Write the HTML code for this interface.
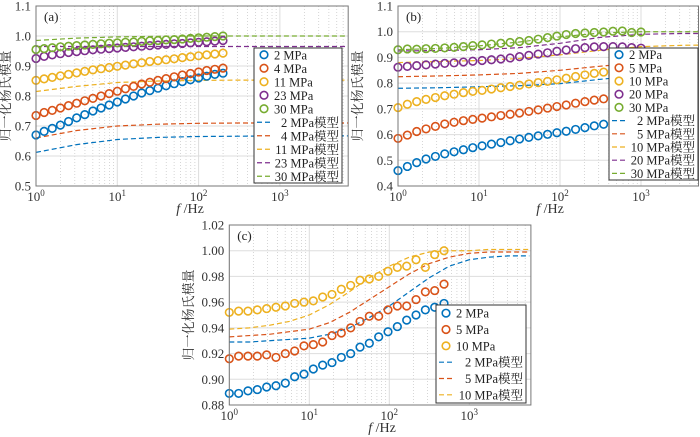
<!DOCTYPE html>
<html><head><meta charset="utf-8"><style>
body{margin:0;background:#fff;}
svg{display:block;font-family:"Liberation Serif","Noto Serif CJK SC",serif;}
</style></head><body>
<svg id="chart" width="700" height="437" viewBox="0 0 700 437" xmlns="http://www.w3.org/2000/svg"></svg>
<script>
// ---------- Panel (a) data ----------
const aLabels = ["2 MPa","4 MPa","11 MPa","23 MPa","30 MPa"];
const aP2 = [0.670,0.682,0.692,0.703,0.715,0.727,0.738,0.750,0.760,0.770,0.780,0.790,0.800,0.810,0.818,0.826,0.834,0.841,0.848,0.854,0.860,0.866,0.872,0.876];
const aP4 = [0.735,0.745,0.752,0.760,0.768,0.776,0.784,0.792,0.800,0.808,0.816,0.824,0.832,0.840,0.846,0.852,0.858,0.864,0.870,0.875,0.880,0.885,0.889,0.893];
const aP11 = [0.852,0.857,0.862,0.867,0.872,0.877,0.882,0.887,0.891,0.895,0.899,0.903,0.907,0.911,0.915,0.918,0.921,0.924,0.928,0.931,0.934,0.937,0.940,0.943];
const aP23 = [0.925,0.932,0.937,0.941,0.945,0.948,0.951,0.954,0.956,0.958,0.960,0.962,0.964,0.966,0.968,0.970,0.972,0.974,0.975,0.977,0.979,0.981,0.983,0.985];
const aP30 = [0.955,0.958,0.961,0.964,0.966,0.968,0.970,0.972,0.974,0.976,0.977,0.979,0.980,0.982,0.984,0.985,0.987,0.988,0.990,0.992,0.994,0.996,0.998,1.000];
const aM2 = [0.612,0.638,0.655,0.662,0.665,0.666,0.667,0.667,0.667];
const aM4 = [0.660,0.685,0.700,0.706,0.709,0.710,0.710,0.710,0.710];
const aM11 = [0.815,0.832,0.845,0.850,0.852,0.853,0.853,0.853,0.853];
const aM23 = [0.965,0.965,0.965,0.965,0.965,0.965,0.965,0.965,0.965];
const aM30 = [0.985,0.993,0.997,0.999,1.000,1.000,1.000,1.000,1.000];
const aYTicks = [0.5,0.6,0.7,0.8,0.9,1.0,1.1];
// ---------- Panel (b) data ----------
const bLabels = ["2 MPa","5 MPa","10 MPa","20 MPa","30 MPa"];
const bP2 = [0.460,0.476,0.491,0.505,0.515,0.525,0.533,0.541,0.549,0.556,0.563,0.569,0.576,0.583,0.589,0.595,0.601,0.607,0.613,0.620,0.627,0.634,0.640,0.648,0.656,0.664,0.672];
const bP5 = [0.585,0.598,0.612,0.622,0.632,0.641,0.648,0.654,0.659,0.664,0.669,0.674,0.679,0.684,0.690,0.696,0.703,0.709,0.715,0.722,0.728,0.734,0.739,0.745,0.752,0.758,0.764];
const bP10 = [0.705,0.718,0.728,0.737,0.744,0.751,0.757,0.763,0.768,0.772,0.777,0.782,0.787,0.792,0.797,0.802,0.807,0.813,0.819,0.826,0.832,0.838,0.843,0.848,0.853,0.858,0.862];
const bP20 = [0.862,0.865,0.868,0.871,0.874,0.877,0.879,0.882,0.885,0.888,0.891,0.894,0.898,0.903,0.908,0.913,0.918,0.924,0.929,0.934,0.938,0.941,0.942,0.942,0.941,0.938,0.936];
const bP30 = [0.930,0.933,0.932,0.934,0.935,0.937,0.939,0.942,0.946,0.949,0.952,0.955,0.958,0.962,0.966,0.971,0.977,0.983,0.989,0.993,0.995,0.997,0.999,1.002,1.003,0.997,0.999];
const bM2 = [0.780,0.782,0.786,0.790,0.798,0.815,0.830,0.838,0.840];
const bM5 = [0.825,0.828,0.832,0.838,0.850,0.866,0.880,0.888,0.890];
const bM10 = [0.880,0.884,0.888,0.896,0.910,0.928,0.942,0.947,0.948];
const bM20 = [0.925,0.927,0.930,0.938,0.955,0.978,0.990,0.993,0.993];
const bM30 = [0.930,0.935,0.945,0.960,0.980,0.995,1.000,1.000,1.000];
const bYTicks = [0.4,0.5,0.6,0.7,0.8,0.9,1.0,1.1];
// ---------- Panel (c) data ----------
const cLabels = ["2 MPa","5 MPa","10 MPa"];
const cP2 = [0.889,0.889,0.891,0.892,0.894,0.895,0.897,0.902,0.904,0.908,0.911,0.913,0.917,0.920,0.925,0.928,0.933,0.937,0.941,0.946,0.950,0.954,0.956,0.959];
const cP5 = [0.916,0.918,0.918,0.918,0.919,0.917,0.920,0.922,0.926,0.927,0.929,0.934,0.936,0.940,0.945,0.949,0.949,0.954,0.957,0.957,0.962,0.968,0.969,0.974];
const cP10 = [0.952,0.953,0.953,0.954,0.955,0.956,0.957,0.959,0.960,0.961,0.964,0.966,0.970,0.973,0.977,0.978,0.980,0.984,0.987,0.988,0.993,0.987,0.997,1.000];
const cM2 = [0.929,0.929,0.930,0.931,0.932,0.935,0.940,0.948,0.957,0.968,0.979,0.988,0.993,0.995,0.996,0.996];
const cM5 = [0.933,0.934,0.935,0.937,0.939,0.944,0.952,0.962,0.972,0.982,0.990,0.995,0.998,0.999,0.999,0.999];
const cM10 = [0.939,0.940,0.942,0.945,0.950,0.958,0.968,0.979,0.988,0.995,0.999,1.000,1.000,1.001,1.001,1.001];
const cYTicks = [0.88,0.90,0.92,0.94,0.96,0.98,1.00,1.02];
const xTickExp = [0,1,2,3];

const COLORS = ["#0072BD","#D95319","#EDB120","#7E2F8E","#77AC30"];
const NS = "http://www.w3.org/2000/svg";
const svg = document.getElementById("chart");
function mk(tag, attrs, parent){const e=document.createElementNS(NS,tag);for(const k in attrs)e.setAttribute(k,attrs[k]);(parent||svg).appendChild(e);return e;}

function panel(p){
  const g = mk("g",{});
  
  
  const xs = v => p.x0 + (v) * p.dec;
  const ys = v => p.yb - (v - p.ymin) / (p.ymax - p.ymin) * (p.yb - p.yt);
  const xr = p.x0 + p.xmaxLog * p.dec;
  for (let d=0; d<4; d++){
    for (let m=2;m<=9;m++){
      const lx = d+Math.log10(m); if (lx>p.xmaxLog) continue;
      const l = mk("line",{x1:xs(lx),x2:xs(lx),y1:p.yt,y2:p.yb,stroke:"#ccc","stroke-width":0.8,"stroke-dasharray":"1,2"},g);
      
      
    }
  }
  xTickExp.forEach(e=>{
    const l = mk("line",{x1:xs(e),x2:xs(e),y1:p.yt,y2:p.yb,stroke:"#ddd","stroke-width":1},g);
    
    
    const t = mk("text",{x:xs(e),y:p.yb+15,"font-size":13,"text-anchor":"middle",fill:"#333"},g);
    
    
    t.textContent = "10";
    const s = mk("tspan",{dy:-5,"font-size":9},t); s.textContent = String(e);
  });
  p.yTicks.forEach(v=>{
    const l = mk("line",{x1:p.x0,x2:xr,y1:ys(v),y2:ys(v),stroke:"#ddd","stroke-width":1},g);
    
    
    const t = mk("text",{x:p.x0-5,y:ys(v)+4.5,"font-size":13,"text-anchor":"end",fill:"#333"},g);
    
    
    t.textContent = v.toFixed(p.dp);
  });
  p.models.forEach((arr,i)=>{
    const pts = arr.map((v,k)=>{const lx=Math.min(k*p.mstep,p.xmaxLog);return xs(lx)+","+ys(v);}).join(" ");
    const l = mk("polyline",{points:pts,fill:"none",stroke:COLORS[i],"stroke-width":1.2,"stroke-dasharray":"5,3"},g);
    
    
  });
  p.series.forEach((arr,i)=>{
    arr.forEach((v,k)=>{
      const c = mk("circle",{cx:xs(k*p.pstep),cy:ys(v),r:3.8,fill:"none",stroke:COLORS[i],"stroke-width":1.6},g);
      
      
    });
  });
  const b = mk("rect",{x:p.x0,y:p.yt,width:xr-p.x0,height:p.yb-p.yt,fill:"none",stroke:"#777","stroke-width":1},g);
  
  
  const pl = mk("text",{x:p.x0+8,y:p.yt+15,"font-size":13,fill:"#222"},g);
  
  
  pl.textContent = "("+p.id+")";
  const xl = mk("text",{x:p.xlx,y:p.yb+27,"font-size":14,"text-anchor":"middle",fill:"#333"},g);
  
  
  const fi = mk("tspan",{"font-style":"italic"},xl); fi.textContent="f";
  const hz = mk("tspan",{},xl); hz.textContent=" /Hz";
  const yl = mk("text",{x:0,y:0,"font-size":13,"text-anchor":"middle",fill:"#333",transform:"translate("+p.ylx+","+((p.yt+p.yb)/2)+") rotate(-90)","font-family":"'Noto Serif CJK SC','Noto Sans CJK SC',serif"},g);
  
  
  yl.textContent = "归一化杨氏模量";
  const L = p.leg;
  const lg = mk("g",{},g);
  
  
  mk("rect",{x:L.x,y:L.y,width:L.w,height:L.h,fill:"#fff",stroke:"#333","stroke-width":1},lg);
  const n = p.labels.length*2, rh = L.h/n;
  for (let r=0;r<n;r++){
    const cy = L.y + rh*(r+0.5), ci = r % p.labels.length, isModel = r>=p.labels.length;
    const e = mk("g",{},lg);
    
    
    if (isModel) mk("line",{x1:L.x+3,x2:L.x+18,y1:cy,y2:cy,stroke:COLORS[ci],"stroke-width":1.2,"stroke-dasharray":"5,3"},e);
    else mk("circle",{cx:L.x+10,cy:cy,r:3.8,fill:"none",stroke:COLORS[ci],"stroke-width":1.6},e);
    const t = mk("text",{x:L.x+(isModel?L.w-3:20),y:cy+4.5,"font-size":12.5,fill:"#222","text-anchor":isModel?"end":"start"},e);
    t.textContent = p.labels[ci] + (isModel?"模型":"");
  }
}

panel({id:"a",x0:36,dec:81.3,xmaxLog:3.84,yt:6,yb:186,ymin:0.5,ymax:1.1,yTicks:aYTicks,dp:1,
  series:[aP2,aP4,aP11,aP23,aP30],models:[aM2,aM4,aM11,aM23,aM30],pstep:0.1,mstep:0.5,labels:aLabels,
  leg:{x:254,y:48,w:88,h:135},xlx:190,ylx:10});
panel({id:"b",x0:398,dec:81,xmaxLog:3.71,yt:6,yb:186,ymin:0.4,ymax:1.1,yTicks:bYTicks,dp:1,
  series:[bP2,bP5,bP10,bP20,bP30],models:[bM2,bM5,bM10,bM20,bM30],pstep:3/26,mstep:0.5,labels:bLabels,
  leg:{x:609,y:48,w:89,h:132},xlx:550,ylx:362});
panel({id:"c",x0:229.3,dec:80,xmaxLog:3.77,yt:225,yb:405,ymin:0.88,ymax:1.02,yTicks:cYTicks,dp:2,
  series:[cP2,cP5,cP10],models:[cM2,cM5,cM10],pstep:0.1167,mstep:0.25,labels:cLabels,
  leg:{x:436,y:305,w:90,h:98},xlx:382,ylx:193});
</script>
</body></html>
